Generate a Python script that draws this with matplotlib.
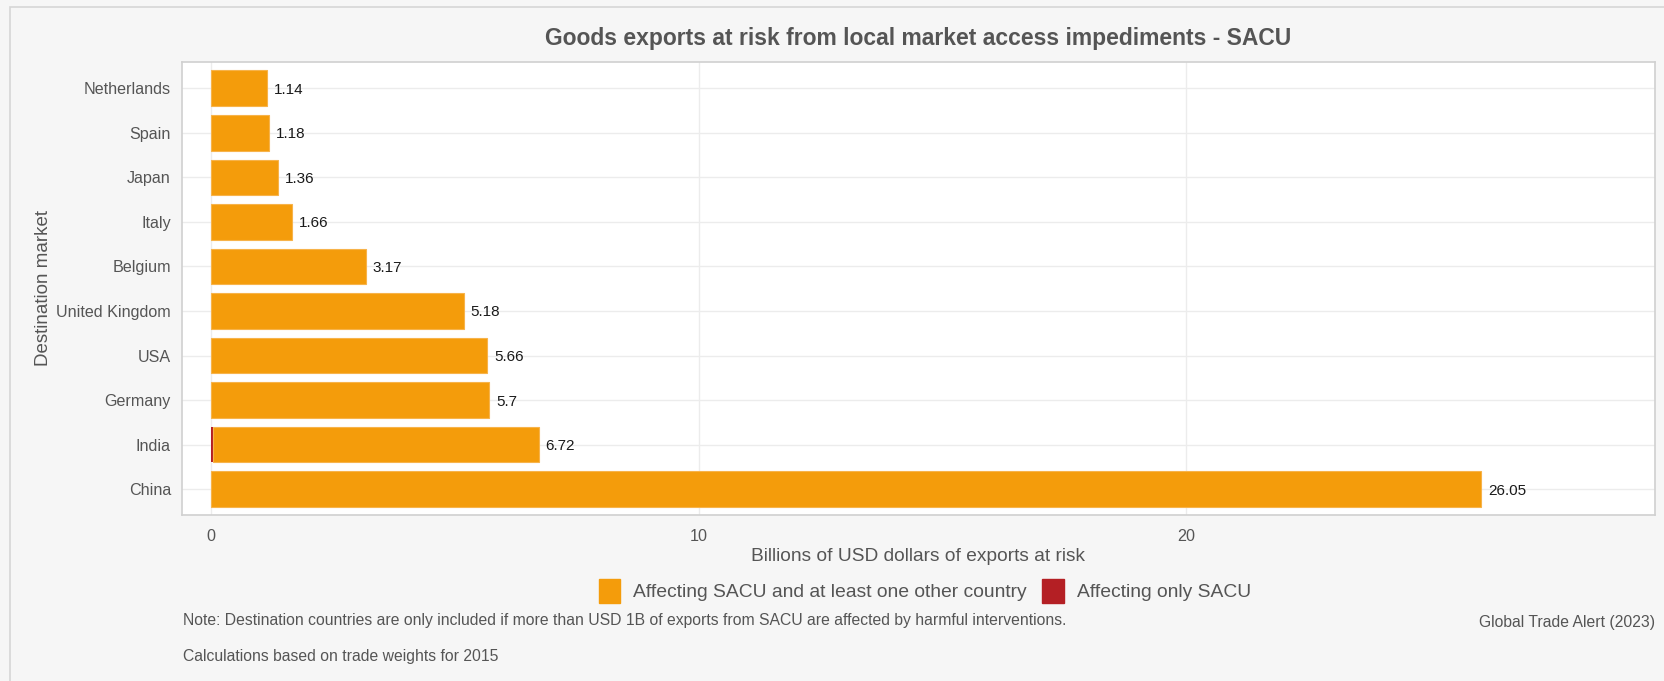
import numpy as np
import matplotlib.pyplot as plt
from matplotlib.patches import Patch, Rectangle

# destinations, listed top to bottom
countries = ["Netherlands", "Spain", "Japan", "Italy", "Belgium",
             "United Kingdom", "USA", "Germany", "India", "China"]
totals = [1.14, 1.18, 1.36, 1.66, 3.17, 5.18, 5.66, 5.7, 6.72, 26.05]
only_sacu = [0, 0, 0, 0, 0, 0, 0, 0, 0.03, 0]
x_ticks = [0, 10, 20]

orange = "#f49c0b"
red = "#b41f24"
grey_txt = "#555555"

plt.rcParams["font.family"] = ["Liberation Sans", "DejaVu Sans"]

fig = plt.figure(figsize=(16.65, 6.81), dpi=100, facecolor="#f6f6f6")

# outer panel frame
fig.patches.append(Rectangle((10 / 1665, -0.1), 1.2, 1.1 - 7 / 681, transform=fig.transFigure,
                             fill=False, edgecolor="#d6d6d6", linewidth=1.2, zorder=0))

ax = fig.add_axes([182 / 1665, 1 - 515 / 681, (1655 - 182) / 1665, (515 - 62) / 681])
ax.set_facecolor("white")

totals = np.array(totals)
only_sacu = np.array(only_sacu)
others = totals - only_sacu
y = np.arange(len(countries))[::-1]

ax.barh(y, only_sacu, height=0.8, color=red, zorder=3)
ax.barh(y, others, left=only_sacu, height=0.8, color=orange,
        edgecolor="#f7b34a", linewidth=0.8, zorder=3)

for yi, val in zip(y, totals):
    ax.annotate(f"{val:g}", (val, yi), xytext=(5, 0), textcoords="offset points",
                va="center_baseline", ha="left", fontsize=11, color="#1a1a1a", zorder=4)

ax.set_xlim(-0.6, 29.62)
ax.set_ylim(-0.58, 9.59)
ax.set_xticks(x_ticks)
ax.set_yticks(y)
ax.set_yticklabels(countries)
ax.tick_params(axis="both", length=0, labelsize=11.6, labelcolor=grey_txt)
ax.tick_params(axis="x", pad=10)
ax.tick_params(axis="y", pad=8)
ax.grid(True, color="#ececec", linewidth=1, zorder=0)
ax.set_axisbelow(True)
for s in ax.spines.values():
    s.set_color("#d0d0d0")
    s.set_linewidth(1.2)

ax.set_xlabel("Billions of USD dollars of exports at risk", fontsize=13.8,
              color=grey_txt, labelpad=3)
ax.set_ylabel("Destination market", fontsize=13.5, color=grey_txt, labelpad=3)

fig.text(918 / 1665, 1 - 38 / 681, "Goods exports at risk from local market access impediments - SACU",
         ha="center", va="center", fontsize=16.5, fontweight="bold", color=grey_txt)

handles = [Patch(facecolor=orange, edgecolor=orange),
           Patch(facecolor=red, edgecolor=red)]
fig.legend(handles, ["Affecting SACU and at least one other country", "Affecting only SACU"],
           loc="center", bbox_to_anchor=(925 / 1665, 1 - 591 / 681), ncol=2, frameon=False,
           fontsize=13.9, labelcolor=grey_txt, handlelength=1.1, handleheight=1.6,
           handletextpad=0.7, columnspacing=0.8)

fig.text(183 / 1665, 1 - 621 / 681,
         "Note: Destination countries are only included if more than USD 1B of exports from SACU are affected by harmful interventions.",
         ha="left", va="center", fontsize=11.3, color=grey_txt)
fig.text(183 / 1665, 1 - 656 / 681, "Calculations based on trade weights for 2015",
         ha="left", va="center", fontsize=11.3, color=grey_txt)
fig.text(1655 / 1665, 1 - 622 / 681, "Global Trade Alert (2023)",
         ha="right", va="center", fontsize=11.3, color=grey_txt)

fig.savefig("out.png", dpi=100, facecolor=fig.get_facecolor())
